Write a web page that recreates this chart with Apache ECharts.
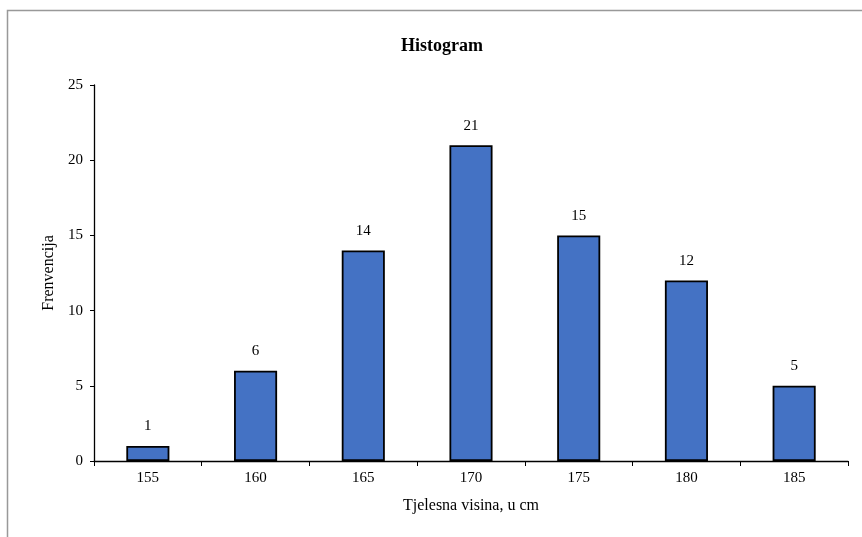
<!DOCTYPE html>
<html><head><meta charset="utf-8">
<script src="https://cdn.jsdelivr.net/npm/echarts@6/dist/echarts.min.js"></script>
<style>html,body{margin:0;padding:0;background:#fff}#c{width:862px;height:537px}</style>
</head><body><div id="c"></div>
<script>
const categories = ['155','160','165','170','175','180','185'];
const frequencies = [1, 6, 14, 21, 15, 12, 5];
const yTicks = [0, 5, 10, 15, 20, 25];

const font = 'Liberation Serif, Times New Roman, serif';
const chart = echarts.init(document.getElementById('c'));
chart.setOption({
  animation: false,
  backgroundColor: '#fff',
  title: {
    text: 'Histogram', left: 437, top: 32, textAlign: 'center',
    textStyle: {fontFamily: font, fontWeight: 'bold', fontSize: 18, color: '#000'}
  },
  graphic: [{
    type: 'rect', shape: {x: 7.5, y: 10.5, width: 900, height: 700},
    style: {fill: 'none', stroke: '#999', lineWidth: 1.5}, silent: true, z: -1
  }],
  grid: {left: 94, right: 14, top: 85, bottom: 76},
  xAxis: {
    type: 'category', data: categories,
    name: 'Tjelesna visina, u cm', nameLocation: 'middle', nameGap: 37,
    nameTextStyle: {fontFamily: font, fontSize: 16, color: '#000'},
    axisLine: {lineStyle: {color: '#000', width: 1.3}},
    axisTick: {show: true, alignWithLabel: false, length: 5, lineStyle: {color: '#000'}},
    axisLabel: {fontFamily: font, fontSize: 15, color: '#000', margin: 10},
    splitLine: {show: false}
  },
  yAxis: {
    type: 'value', min: yTicks[0], max: yTicks[yTicks.length - 1], interval: 5,
    name: 'Frenvencija', nameLocation: 'middle', nameGap: 28, nameRotate: 90,
    nameTextStyle: {fontFamily: font, fontSize: 16, color: '#000'},
    axisLine: {show: true, lineStyle: {color: '#000', width: 1.3}},
    axisTick: {show: true, length: 4, lineStyle: {color: '#000'}},
    axisLabel: {fontFamily: font, fontSize: 15, color: '#000', margin: 11},
    splitLine: {show: false}
  },
  series: [{
    type: 'bar', data: frequencies, barWidth: '40%',
    itemStyle: {color: '#4472C4', borderColor: '#000', borderWidth: 1.8},
    label: {show: true, position: 'top', distance: 12, fontFamily: font, fontSize: 15, color: '#000'}
  }]
});
</script></body></html>
